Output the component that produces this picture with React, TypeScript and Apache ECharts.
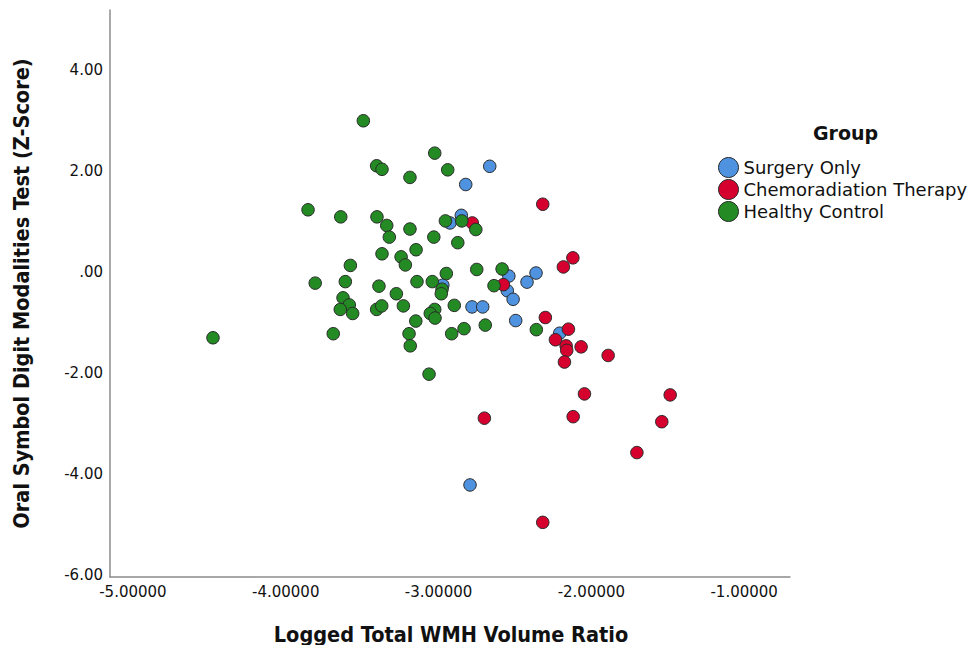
import React, { useEffect, useRef } from "react";
import * as echarts from "echarts";

const groupNames = ["Surgery Only", "Chemoradiation Therapy", "Healthy Control"];
const groupColors = ["#4F93E0", "#D6002E", "#238A24"];

const xTickValues = [-5, -4, -3, -2, -1];
const yTickValues = [-6, -4, -2, 0, 2, 4];

const surgeryX = [-2.665, -2.822, -2.851, -2.925, -2.54, -2.362, -2.421, -2.55, -2.512, -2.972, -2.781, -2.711, -2.495, -2.207, -2.794];
const surgeryY = [2.09, 1.73, 1.12, 0.97, -0.08, -0.02, -0.2, -0.37, -0.54, -0.26, -0.69, -0.69, -0.96, -1.21, -4.21];

const chemoX = [-2.318, -2.779, -2.576, -2.121, -2.183, -2.301, -2.15, -2.235, -2.165, -2.161, -2.067, -1.89, -2.176, -2.045, -1.484, -2.7, -2.119, -1.539, -1.702, -2.318];
const chemoY = [1.34, 0.97, -0.25, 0.28, 0.1, -0.9, -1.13, -1.34, -1.46, -1.55, -1.48, -1.65, -1.78, -2.41, -2.43, -2.89, -2.86, -2.96, -3.57, -4.95];

const healthyX = [
  -3.492, -3.405, -3.37, -3.854, -3.64, -3.403, -3.339, -3.322, -3.37, -3.577,
  -3.807, -3.61, -3.39, -3.625, -3.584, -3.643, -3.562, -3.405, -3.372, -3.689,
  -4.476, -3.025, -2.94, -3.187, -2.955, -2.848, -2.756, -3.187, -3.031, -2.874,
  -3.147, -3.245, -3.217, -2.949, -2.75, -2.584, -2.637, -3.141, -3.041, -2.977,
  -2.982, -3.276, -3.23, -3.025, -3.054, -3.023, -2.897, -2.694, -2.833, -2.914,
  -3.149, -3.193, -3.185, -3.062, -2.36,
];
const healthyY = [
  2.99, 2.1, 2.03, 1.23, 1.09, 1.09, 0.92, 0.69, 0.36, 0.13,
  -0.22, -0.19, -0.28, -0.51, -0.65, -0.74, -0.82, -0.74, -0.67, -1.22,
  -1.3, 2.35, 2.02, 1.87, 1.01, 1.01, 0.84, 0.85, 0.69, 0.58,
  0.44, 0.3, 0.14, -0.03, 0.05, 0.06, -0.27, -0.19, -0.19, -0.34,
  -0.43, -0.43, -0.67, -0.74, -0.82, -0.91, -0.66, -1.05, -1.12, -1.22,
  -0.97, -1.22, -1.46, -2.02, -1.14,
];

const seriesX = [surgeryX, chemoX, healthyX];
const seriesY = [surgeryY, chemoY, healthyY];

const tickFont = "'DejaVu Sans', 'Noto Sans', sans-serif";
const titleFont = "'Liberation Sans Narrow', 'Arial Narrow', 'DejaVu Sans Condensed', 'Roboto Condensed', 'Liberation Sans', sans-serif";

export default function App() {
  const ref = useRef<HTMLDivElement>(null);
  useEffect(() => {
    if (!ref.current) return;
    const chart = echarts.init(ref.current, null, { renderer: "svg" });
    const series = groupNames.map((name, i) => ({
      name,
      type: "scatter",
      data: seriesX[i].map((x, j) => [x, seriesY[i][j]]),
      symbol: "circle",
      symbolSize: 12.5,
      itemStyle: { color: groupColors[i], borderColor: "#2a2a2a", borderWidth: 1, opacity: 1 },
      emphasis: { disabled: true },
    }));
    chart.setOption({
      animation: false,
      backgroundColor: "#ffffff",
      grid: { left: 110, right: 185, top: 10, bottom: 68, containLabel: false },
      title: {
        text: "Group",
        left: 813,
        top: 123,
        padding: 0,
        textStyle: { fontFamily: tickFont, fontWeight: "bold", fontSize: 19, color: "#111" },
      },
      legend: {
        orient: "vertical",
        left: 718,
        top: 157,
        padding: 0,
        itemGap: 1,
        itemWidth: 20,
        itemHeight: 20,
        icon: "circle",
        data: groupNames.map((n, i) => ({
          name: n,
          itemStyle: { color: groupColors[i], borderColor: "#2a2a2a", borderWidth: 1 },
        })),
        textStyle: { fontFamily: tickFont, fontSize: 18, color: "#111" },
      },
      xAxis: {
        type: "value",
        min: -5.15,
        max: -0.7,
        splitLine: { show: false },
        axisTick: { show: false },
        axisLine: { show: true, onZero: false, lineStyle: { color: "#8c8c8c", width: 1.5 } },
        axisLabel: {
          customValues: xTickValues,
          formatter: (v: number) => v.toFixed(5),
          fontFamily: tickFont,
          fontSize: 15,
          color: "#111",
          margin: 7,
        },
      },
      yAxis: {
        type: "value",
        min: -6.03,
        max: 5.18,
        name: "Oral Symbol Digit Modalities Test (Z-Score)",
        nameLocation: "middle",
        nameGap: 78,
        nameTextStyle: { fontFamily: titleFont, fontWeight: "bold", fontSize: 21.5, color: "#111" },
        splitLine: { show: false },
        axisTick: { show: false },
        axisLine: { show: true, onZero: false, lineStyle: { color: "#8c8c8c", width: 1.5 } },
        axisLabel: {
          customValues: yTickValues,
          formatter: (v: number) => (v === 0 ? ".00" : v.toFixed(2)),
          fontFamily: tickFont,
          fontSize: 15,
          color: "#111",
          margin: 7,
        },
      },
      graphic: [
        {
          type: "text",
          x: 451,
          y: 634,
          style: {
            text: "Logged Total WMH Volume Ratio",
            fontFamily: titleFont,
            fontWeight: "bold",
            fontSize: 21.5,
            fill: "#111",
            textAlign: "center",
            textVerticalAlign: "middle",
          },
        },
      ],
      series,
    });
    return () => chart.dispose();
  }, []);
  return (
    <div
      ref={ref}
      style={{ position: "fixed", left: 0, top: 0, width: 975, height: 645, background: "#fff" }}
    />
  );
}
